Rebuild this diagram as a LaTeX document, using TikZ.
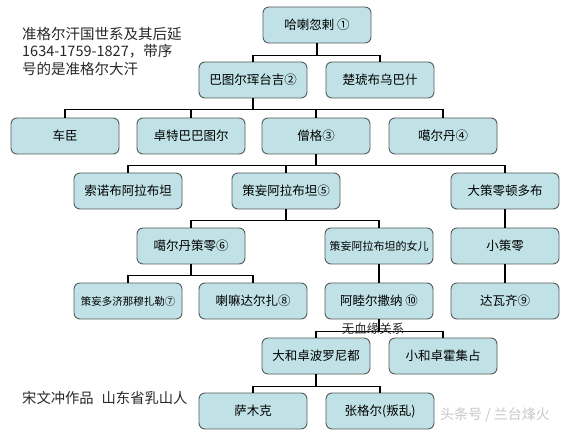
\documentclass[tikz,border=0pt]{standalone}
\usepackage{fontspec}
\setmainfont{Noto Sans CJK SC}
\definecolor{boxfill}{RGB}{192,226,230}
\definecolor{boxline}{RGB}{85,90,92}
\definecolor{titlegray}{RGB}{40,40,40}
\definecolor{markgray}{RGB}{200,200,200}
\begin{document}
\begin{tikzpicture}[x=1pt,y=-1pt,
  famnode/.style={draw=boxline, fill=boxfill, rounded corners=6pt, minimum width=108pt, minimum height=36pt, inner sep=1pt, font=\fontsize{12.5}{14}\selectfont, line width=0.9pt},
  smalltext/.style={font=\fontsize{10.5}{12}\selectfont},
  link/.style={line width=1.7pt, black},
  ]
\useasboundingbox (0,0) rectangle (580,435);
\fill[white] (0,0) rectangle (580,435);

% row 1
\node[famnode] (A) at (317,25) {哈喇忽剌 ①};
% row 2
\node[famnode] (B) at (253,80) {巴图尔珲台吉②};
\node[famnode] (C) at (380,80) {楚琥布乌巴什};
% row 3
\node[famnode] (D) at (65,136) {车臣};
\node[famnode] (E) at (191,136) {卓特巴巴图尔};
\node[famnode] (F) at (316,136) {僧格③};
\node[famnode] (G) at (443,136) {噶尔丹④};
% row 4
\node[famnode] (H) at (128,191) {索诺布阿拉布坦};
\node[famnode] (I) at (286,191) {策妄阿拉布坦⑤};
\node[famnode] (J) at (505,191) {大策零顿多布};
% row 5
\node[famnode] (K) at (191,246) {噶尔丹策零⑥};
\node[famnode, font=\fontsize{11}{12}\selectfont] (L) at (379,246) {策妄阿拉布坦的女儿};
\node[famnode] (M) at (505,246) {小策零};
% row 6
\node[famnode, smalltext] (N) at (128,301) {策妄多济那穆扎勒⑦};
\node[famnode] (O) at (253,301) {喇嘛达尔扎⑧};
\node[famnode] (P) at (379,301) {阿睦尔撒纳 ⑩};
\node[famnode] (Q) at (505,301) {达瓦齐⑨};
% row 7
\node[famnode] (R) at (316,356) {大和卓波罗尼都};
\node[famnode] (S) at (443,356) {小和卓霍集占};
% row 8
\node[famnode] (T) at (253,411) {萨木克};
\node[famnode] (U) at (380,411) {张格尔(叛乱)};

% connectors
\draw[link] (A.south) -- ++(0,12) -| (B.north);
\draw[link] (A.south) -- ++(0,12) -| (C.north);
\foreach \c in {D,E,F,G}
  \draw[link] (B.south) -- ++(0,11) -| (\c.north);
\foreach \c in {H,I,J}
  \draw[link] (F.south) -- ++(0,11) -| (\c.north);
\foreach \c in {K,L}
  \draw[link] (I.south) -- ++(0,11) -| (\c.north);
\draw[link] (J.south) -- (M.north);
\foreach \c in {N,O}
  \draw[link] (K.south) -- ++(0,11) -| (\c.north);
\draw[link] (L.south) -- (P.north);
\draw[link] (M.south) -- (Q.north);
\foreach \c in {R,S}
  \draw[link] (P.south) -- ++(0,12) -| (\c.north);
\foreach \c in {T,U}
  \draw[link] (R.south) -- ++(0,12) -| (\c.north);

% texts
\node[anchor=west, align=left, inner sep=0pt, text=titlegray, font=\fontsize{14.5}{17.5}\selectfont] (title) at (22,51) {准格尔汗国世系及其后延\\1634-1759-1827，带序\\号的是准格尔大汗};
\node[inner sep=0pt, text=titlegray, font=\fontsize{12.5}{14}\selectfont] (norel) at (373,329) {无血缘关系};
\node[anchor=west, inner sep=0pt, text=titlegray, font=\fontsize{14.3}{16}\selectfont] (author) at (22,398) {宋文冲作品\hspace{8pt}山东省乳山人};
\node[anchor=west, inner sep=0pt, text=markgray, font=\fontsize{14}{16}\selectfont] (mark) at (440,415) {头条号 / 兰台烽火};
\end{tikzpicture}
\end{document}
